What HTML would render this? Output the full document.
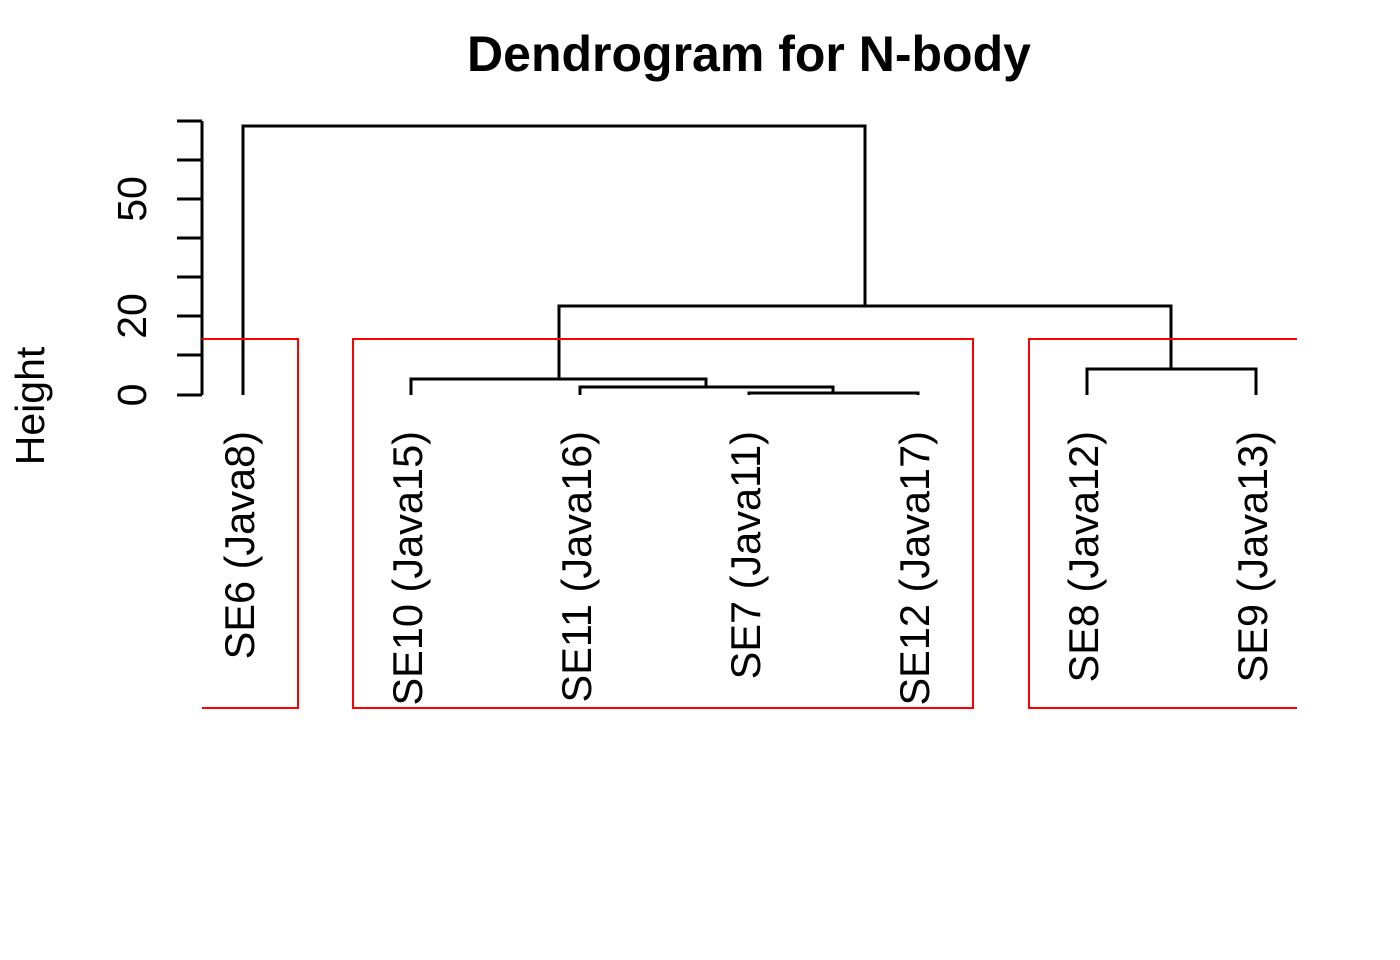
<!DOCTYPE html>
<html><head><style>body{margin:0;background:#fff}svg{display:block}</style></head>
<body>
<svg width="1400" height="960" xmlns="http://www.w3.org/2000/svg" font-family="Liberation Sans, Arial, sans-serif">
<rect width="1400" height="960" fill="#fff"/>
<text x="749" y="71" font-size="50" font-weight="bold" text-anchor="middle">Dendrogram for N-body</text>
<text transform="translate(44,406) rotate(-90)" font-size="41" text-anchor="middle">Height</text>
<g stroke="#000" stroke-width="3" fill="none">
<path d="M202 121V395"/>
<path d="M177 121H202M177 160H202M177 199H202M177 238H202M177 277H202M177 316H202M177 355H202M177 395H202"/>
</g>
<g font-size="41" text-anchor="middle">
<text transform="translate(146,199) rotate(-90)">50</text>
<text transform="translate(146,316) rotate(-90)">20</text>
<text transform="translate(146,395) rotate(-90)">0</text>
</g>
<g stroke="#000" stroke-width="3" fill="none">
<path d="M243 395V126H865V306"/>
<path d="M559 379V306H1171V369"/>
<path d="M411 395V379H706V387"/>
<path d="M580 395V387H833V393"/>
<path d="M749 395V393H918V395"/>
<path d="M1087 395V369H1256V395"/>
</g>
<g stroke="#f00" stroke-width="2" fill="none">
<path d="M202 339H298V708H202"/>
<rect x="353" y="339" width="620" height="369"/>
<path d="M1297 339H1029V708H1297"/>
</g>
<g font-size="41.5" text-anchor="end">
<text transform="translate(254,431) rotate(-90)">SE6 (Java8)</text>
<text transform="translate(422,431) rotate(-90)">SE10 (Java15)</text>
<text transform="translate(591,431) rotate(-90)">SE11 (Java16)</text>
<text transform="translate(760,431) rotate(-90)">SE7 (Java11)</text>
<text transform="translate(929,431) rotate(-90)">SE12 (Java17)</text>
<text transform="translate(1098,431) rotate(-90)">SE8 (Java12)</text>
<text transform="translate(1267,431) rotate(-90)">SE9 (Java13)</text>
</g>
</svg>
</body></html>
